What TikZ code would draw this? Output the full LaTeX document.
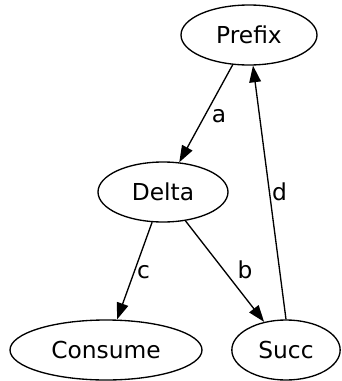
\documentclass[tikz,border=0pt]{standalone}
\usepackage{fontspec}
\setmainfont{DejaVu Sans}
\usetikzlibrary{shapes.geometric,arrows.meta}

\begin{document}
\begin{tikzpicture}[x=0.6pt,y=-0.6pt,
                    etat/.style={draw,ellipse,inner sep=0pt,minimum height=36pt,line width=0.8pt,font=\fontsize{14}{16}\selectfont},
                    fleche/.style={-{Triangle[length=10pt,width=7pt]},line width=0.8pt},
                    lbl/.style={anchor=base,inner sep=0pt,font=\fontsize{14}{16}\selectfont}]
                    \useasboundingbox (0,0) rectangle (341,381);
                    \node[etat,minimum width=81.6pt] (prefix) at (249,35) {Prefix};
                    \node[etat,minimum width=78pt] (delta) at (163,192) {Delta};
                    \node[etat,minimum width=115.2pt] (consume) at (106,350) {Consume};
                    \node[etat,minimum width=65pt] (succ) at (286,350) {Succ};

                    \draw[fleche] (prefix) -- (delta);
                    \draw[fleche] (delta) -- (consume);
                    \draw[fleche] (delta) -- (succ);
                    \draw[fleche] (succ.north) -- (prefix);

                    \node[lbl] (la) at (219,122) {a};
                    \node[lbl] (lb) at (245,278) {b};
                    \node[lbl] (lc) at (143.5,278) {c};
                    \node[lbl] (ld) at (279.5,200) {d};
                \end{tikzpicture}
\end{document}
